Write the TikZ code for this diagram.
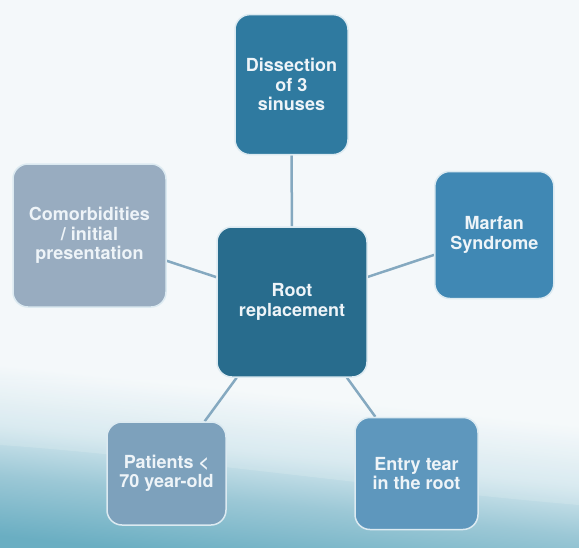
\documentclass[tikz,border=0pt]{standalone}
\usepackage{fontspec}
\setmainfont{TeX Gyre Heros}
\usetikzlibrary{backgrounds}
\definecolor{bgteal}{HTML}{6AAEC2}
\definecolor{bgmid}{HTML}{9CC8D6}
\definecolor{bglight}{HTML}{D3E7EE}
\definecolor{bgwhite}{HTML}{F4F8FA}
\definecolor{linecol}{HTML}{85A9C0}
\definecolor{bordercol}{HTML}{DCEAF1}
\definecolor{txtcol}{HTML}{EEF4F8}
\definecolor{cdiss}{HTML}{2F7AA0}
\definecolor{croot}{HTML}{286C8D}
\definecolor{cmarf}{HTML}{4088B4}
\definecolor{ccomor}{HTML}{98ACC0}
\definecolor{cpat}{HTML}{7DA1BC}
\definecolor{centry}{HTML}{5E97BD}
\pgfdeclareverticalshading{bgsh}{100bp}{color(0bp)=(bgteal); color(23.5bp)=(bgteal); color(29bp)=(bgmid); color(33.5bp)=(bglight); color(39bp)=(bgwhite); color(100bp)=(bgwhite)}
\tikzset{
  box/.style={rectangle, rounded corners=15pt, draw=bordercol, line width=1.5pt,
    inner sep=0pt, align=center, text=txtcol,
    font=\fontsize{18}{19.5}\selectfont\bfseries},
  conn/.style={draw=linecol, line width=2.5pt}
}
\begin{document}
\begin{tikzpicture}[x=1pt,y=-1pt]
\useasboundingbox (0,0) rectangle (579,547);
\node[box, fill=cdiss, minimum width=113pt, minimum height=140pt] (diss) at (291.5,84.6) {Dissection\\of 3\\sinuses};
\node[box, fill=cmarf, minimum width=119pt, minimum height=127pt] (marf) at (494.3,235) {Marfan\\Syndrome};
\node[box, fill=ccomor, minimum width=153pt, minimum height=143pt] (comor) at (89.5,235.5) {Comorbidities\\/ initial\\presentation};
\node[box, fill=croot, minimum width=150pt, minimum height=150pt] (root) at (292,302) {Root\\replacement};
\node[box, fill=cpat, minimum width=119pt, minimum height=103pt] (pat) at (166.5,473.5) {Patients <\\70 year-old};
\node[box, fill=centry, minimum width=123pt, minimum height=112pt] (entry) at (416.5,473.5) {Entry tear\\in the root};
\begin{scope}[on background layer]
  \shade[shading=bgsh, shading angle=-6] (0,0) rectangle (579,547);
  \fill[white, opacity=0.15]
    (0,445) .. controls (150,455) and (400,490) .. (579,505) -- (579,380) -- (0,380) -- cycle;
  \draw[conn] (root) -- (diss);
  \draw[conn] (root) -- (marf);
  \draw[conn] (root) -- (comor);
  \draw[conn] (root) -- (pat);
  \draw[conn] (root) -- (entry);
\end{scope}
\end{tikzpicture}
\end{document}
